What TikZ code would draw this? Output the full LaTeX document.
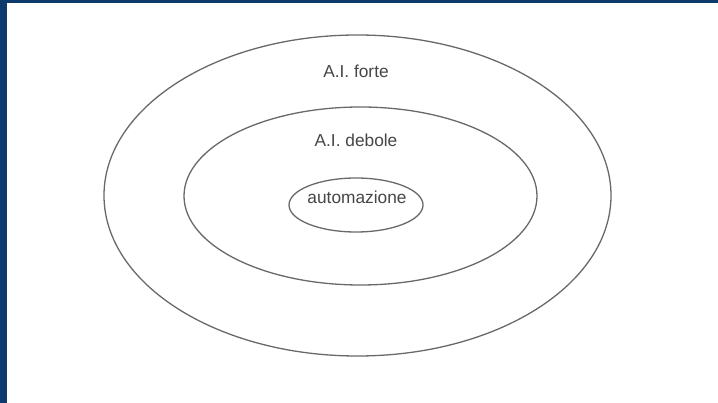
\documentclass[tikz,border=0pt]{standalone}
\usepackage{fontspec}
\setmainfont{Liberation Sans}
\usetikzlibrary{shapes.geometric}
\definecolor{bordo}{RGB}{12,58,108}
\definecolor{linea}{RGB}{105,105,105}
\definecolor{testo}{RGB}{70,70,70}
\tikzset{
	insieme/.style={draw=linea, line width=1.3pt, ellipse, inner sep=0pt},
	etichetta/.style={text=testo, font=\fontsize{17.3}{20}\selectfont, inner sep=0pt}
}
\begin{document}
\begin{tikzpicture}[x=1pt, y=-1pt]
		\useasboundingbox (0, 0) rectangle (718, 403);
		\fill[bordo]	(0, 0) rectangle (718, 403);
		\fill[white]	(7, 3) rectangle (718, 403);

		\node[insieme, minimum width=507pt, minimum height=321pt] (forte) at (357.5, 195.5) {};
		\node[insieme, minimum width=353pt, minimum height=178pt] (debole) at (360.5, 196) {};
		\node[insieme, minimum width=134pt, minimum height=54pt] (autom) at (356, 205) {};

		\node[etichetta] (lforte) at (356, 71) {A.I. forte};
		\node[etichetta] (ldebole) at (356, 140) {A.I. debole};
		\node[etichetta] (lautom) at (357, 197) {automazione};
	\end{tikzpicture}
\end{document}
